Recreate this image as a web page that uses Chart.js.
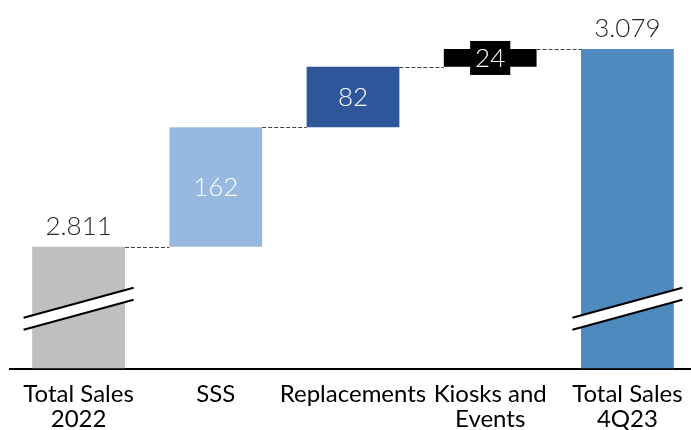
<!DOCTYPE html>
<html>
<head>
<meta charset="utf-8">
<script src="https://cdn.jsdelivr.net/npm/chart.js@4/dist/chart.umd.min.js"></script>
<style>
  html, body { margin: 0; padding: 0; background: #fff; overflow: hidden; }
  #wrap { width: 697px; height: 445px; position: relative; }
</style>
</head>
<body>
<div id="wrap"><canvas id="c"></canvas></div>
<script>
// Waterfall: sales bridge from 2022 to 4Q23
const categories = [['Total Sales', '2022'], 'SSS', 'Replacements', ['Kiosks and', 'Events'], ['Total Sales', '4Q23']];
const steps = [2811, 162, 82, 24, 3079];          // first/last are totals, middle are increments
const isTotal = [true, false, false, false, true];
const barColors = ['#BFBFBF', '#97B9DF', '#2F559A', '#000000', '#4F8ABE'];
const axisMin = 2646;   // broken value axis starts here
const axisMax = 3132;
const breakValue = 2727; // where the axis-break marks sit on total bars

// build floating [start, end] ranges
const ranges = [];
let running = 0;
steps.forEach((v, i) => {
  if (isTotal[i]) { ranges.push([axisMin, v]); running = v; }
  else { ranges.push([running, running + v]); running += v; }
});

function fmt(n) {
  return String(n).replace(/\B(?=(\d{3})+(?!\d))/g, '.');
}

const FONT = 'Lato, "Open Sans", sans-serif';

const waterfallDecor = {
  id: 'waterfallDecor',
  afterDatasetsDraw(chart) {
    const ctx = chart.ctx;
    const meta = chart.getDatasetMeta(0);
    const y = chart.scales.y;
    ctx.save();

    // dashed connectors between consecutive bars
    ctx.strokeStyle = '#404040';
    ctx.lineWidth = 1;
    ctx.setLineDash([4, 2]);
    for (let i = 0; i < meta.data.length - 1; i++) {
      const a = meta.data[i], b = meta.data[i + 1];
      const level = ranges[i][1];
      const yy = Math.round(y.getPixelForValue(level)) + 0.5;
      ctx.beginPath();
      ctx.moveTo(a.x + a.width / 2, yy);
      ctx.lineTo(b.x - b.width / 2, yy);
      ctx.stroke();
    }
    ctx.setLineDash([]);

    // axis-break marks on total bars
    meta.data.forEach((bar, i) => {
      if (!isTotal[i]) return;
      const cy = y.getPixelForValue(breakValue);
      const half = 55, rise = 15, gap = 12;
      const x0 = bar.x - half, x1 = bar.x + half;
      ctx.fillStyle = '#fff';
      ctx.beginPath();
      ctx.moveTo(x0, cy + rise - gap / 2);
      ctx.lineTo(x1, cy - rise - gap / 2);
      ctx.lineTo(x1, cy - rise + gap / 2);
      ctx.lineTo(x0, cy + rise + gap / 2);
      ctx.closePath();
      ctx.fill();
      ctx.strokeStyle = '#000';
      ctx.lineWidth = 2;
      ctx.beginPath();
      ctx.moveTo(x0, cy + rise - gap / 2);
      ctx.lineTo(x1, cy - rise - gap / 2);
      ctx.moveTo(x0, cy + rise + gap / 2);
      ctx.lineTo(x1, cy - rise + gap / 2);
      ctx.stroke();
    });

    // value labels
    ctx.font = '300 26px ' + FONT;
    ctx.textAlign = 'center';
    meta.data.forEach((bar, i) => {
      const top = y.getPixelForValue(ranges[i][1]);
      const bottom = y.getPixelForValue(ranges[i][0]);
      const text = fmt(steps[i]);
      if (isTotal[i]) {
        ctx.fillStyle = '#262626';
        ctx.textBaseline = 'alphabetic';
        ctx.fillText(text, bar.x, top - 12);
      } else {
        const cy = (top + bottom) / 2;
        if (bottom - top < 30) {
          const w = ctx.measureText(text).width + 10;
          ctx.fillStyle = '#000';
          ctx.fillRect(bar.x - w / 2, cy - 17, w, 34);
        }
        ctx.fillStyle = '#fff';
        ctx.textBaseline = 'middle';
        ctx.fillText(text, bar.x, cy + 1);
      }
    });
    ctx.restore();
  }
};

new Chart(document.getElementById('c'), {
  type: 'bar',
  data: {
    labels: categories,
    datasets: [{
      data: ranges,
      backgroundColor: barColors,
      borderWidth: 0,
      borderSkipped: false,
      categoryPercentage: 1,
      barPercentage: 0.676
    }]
  },
  options: {
    responsive: true,
    maintainAspectRatio: false,
    animation: false,
    layout: { padding: { left: 10, right: 1, top: 10, bottom: 0 } },
    plugins: { legend: { display: false }, tooltip: { enabled: false } },
    scales: {
      x: {
        grid: { display: false, drawTicks: false },
        border: { display: true, color: '#000', width: 2 },
        ticks: {
          color: '#000',
          font: { family: FONT, size: 24, lineHeight: 1.05 },
          padding: 13,
          autoSkip: false,
          maxRotation: 0,
          minRotation: 0
        }
      },
      y: {
        display: false,
        min: axisMin,
        max: axisMax
      }
    }
  },
  plugins: [waterfallDecor]
});
</script>
</body>
</html>
